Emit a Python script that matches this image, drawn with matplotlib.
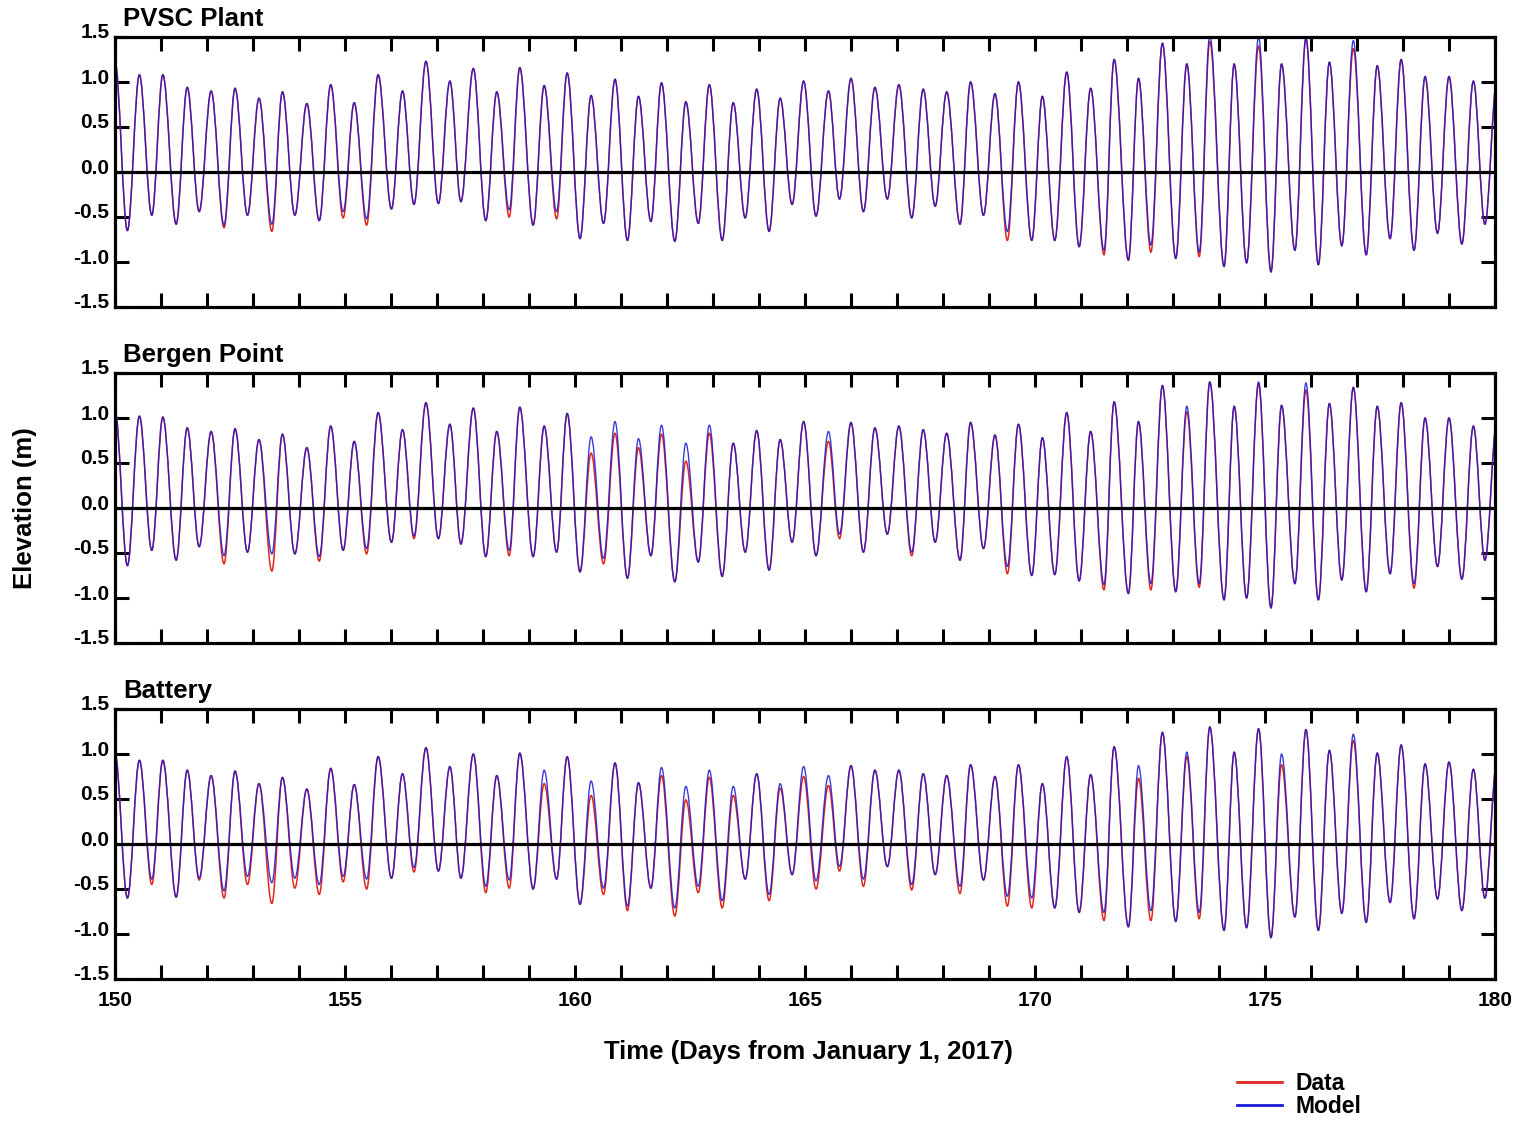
import matplotlib
matplotlib.use("Agg")
import matplotlib.pyplot as plt
from matplotlib.path import Path
from matplotlib.patches import PathPatch
from matplotlib.lines import Line2D
from matplotlib.ticker import FormatStrFormatter
from matplotlib.transforms import ScaledTranslation

# ---------------- data: times of high / low water (days from Jan 1, 2017) ----------------
extrema_days = [
    150.00, 150.27, 150.53, 150.80, 151.04, 151.33, 151.57, 151.83, 152.09, 152.37,
    152.61, 152.88, 153.13, 153.41, 153.64, 153.91, 154.17, 154.44, 154.69, 154.96,
    155.20, 155.47, 155.72, 156.01, 156.25, 156.50, 156.76, 157.03, 157.28, 157.52,
    157.79, 158.06, 158.30, 158.57, 158.80, 159.09, 159.33, 159.60, 159.83, 160.11,
    160.35, 160.62, 160.87, 161.14, 161.38, 161.65, 161.88, 162.17, 162.41, 162.68,
    162.92, 163.20, 163.44, 163.70, 163.95, 164.22, 164.46, 164.72, 164.97, 165.24,
    165.51, 165.75, 166.00, 166.27, 166.52, 166.79, 167.04, 167.32, 167.57, 167.83,
    168.08, 168.37, 168.60, 168.88, 169.13, 169.40, 169.64, 169.93, 170.16, 170.43,
    170.69, 170.96, 171.21, 171.50, 171.72, 172.03, 172.25, 172.52, 172.77, 173.06,
    173.30, 173.57, 173.80, 174.11, 174.33, 174.60, 174.86, 175.13, 175.36, 175.65,
    175.89, 176.16, 176.40, 176.67, 176.92, 177.20, 177.44, 177.72, 177.96, 178.24,
    178.48, 178.75, 179.00, 179.28, 179.53, 179.78, 180.04,
]

# PVSC Plant elevations (m) at the extrema
pvsc_model = [
    1.22, -0.65, 1.08, -0.48, 1.08, -0.58, 0.94, -0.44, 0.90, -0.59,
    0.93, -0.48, 0.82, -0.58, 0.89, -0.48, 0.76, -0.54, 0.97, -0.44,
    0.77, -0.52, 1.08, -0.41, 0.90, -0.36, 1.23, -0.35, 1.01, -0.33,
    1.15, -0.54, 0.89, -0.42, 1.16, -0.59, 0.96, -0.44, 1.10, -0.74,
    0.85, -0.57, 1.03, -0.76, 0.84, -0.55, 0.99, -0.77, 0.78, -0.57,
    0.97, -0.76, 0.77, -0.51, 0.92, -0.66, 0.82, -0.36, 1.01, -0.49,
    0.90, -0.30, 1.04, -0.44, 0.94, -0.30, 0.97, -0.51, 0.92, -0.38,
    0.89, -0.58, 1.00, -0.48, 0.87, -0.66, 1.00, -0.76, 0.84, -0.76,
    1.11, -0.83, 0.93, -0.87, 1.25, -0.98, 1.04, -0.81, 1.43, -0.96,
    1.20, -0.89, 1.52, -1.05, 1.20, -1.01, 1.50, -1.11, 1.20, -0.87,
    1.49, -1.03, 1.22, -0.82, 1.46, -0.92, 1.18, -0.74, 1.25, -0.87,
    1.06, -0.68, 1.06, -0.80, 1.01, -0.58, 1.00,
]
pvsc_data = [
    1.22, -0.65, 1.08, -0.48, 1.08, -0.58, 0.94, -0.44, 0.90, -0.62,
    0.93, -0.48, 0.82, -0.66, 0.89, -0.48, 0.76, -0.54, 0.97, -0.51,
    0.77, -0.59, 1.08, -0.41, 0.90, -0.36, 1.23, -0.35, 1.01, -0.33,
    1.15, -0.54, 0.89, -0.50, 1.16, -0.59, 0.96, -0.52, 1.10, -0.74,
    0.85, -0.57, 1.03, -0.76, 0.84, -0.55, 0.99, -0.77, 0.78, -0.57,
    0.97, -0.76, 0.77, -0.51, 0.92, -0.66, 0.82, -0.36, 1.01, -0.49,
    0.90, -0.30, 1.04, -0.44, 0.94, -0.30, 0.97, -0.51, 0.92, -0.38,
    0.89, -0.58, 1.00, -0.48, 0.87, -0.76, 1.00, -0.76, 0.84, -0.76,
    1.11, -0.83, 0.93, -0.92, 1.25, -0.98, 1.04, -0.89, 1.43, -0.96,
    1.20, -0.94, 1.45, -1.05, 1.20, -1.01, 1.40, -1.11, 1.20, -0.87,
    1.49, -1.03, 1.22, -0.82, 1.37, -0.92, 1.18, -0.74, 1.25, -0.87,
    1.06, -0.68, 1.06, -0.80, 1.01, -0.58, 1.00,
]

# Bergen Point elevations (m)
bergen_model = [
    1.08, -0.64, 1.02, -0.47, 1.01, -0.58, 0.89, -0.43, 0.85, -0.53,
    0.88, -0.49, 0.76, -0.51, 0.82, -0.51, 0.67, -0.54, 0.91, -0.47,
    0.74, -0.45, 1.06, -0.38, 0.87, -0.31, 1.17, -0.34, 0.93, -0.40,
    1.11, -0.54, 0.85, -0.47, 1.12, -0.54, 0.91, -0.49, 1.05, -0.71,
    0.79, -0.56, 0.96, -0.78, 0.77, -0.53, 0.92, -0.82, 0.72, -0.60,
    0.92, -0.76, 0.72, -0.49, 0.86, -0.69, 0.76, -0.38, 0.96, -0.53,
    0.85, -0.29, 0.95, -0.49, 0.89, -0.29, 0.91, -0.49, 0.87, -0.38,
    0.83, -0.58, 0.95, -0.45, 0.81, -0.65, 0.93, -0.75, 0.78, -0.74,
    1.06, -0.81, 0.85, -0.85, 1.18, -0.95, 0.96, -0.84, 1.36, -0.93,
    1.13, -0.84, 1.40, -1.02, 1.13, -1.00, 1.40, -1.11, 1.14, -0.84,
    1.39, -1.02, 1.16, -0.80, 1.34, -0.93, 1.13, -0.73, 1.17, -0.84,
    1.00, -0.65, 1.00, -0.79, 0.91, -0.58, 0.95,
]
bergen_data = [
    1.08, -0.64, 1.02, -0.47, 1.01, -0.58, 0.89, -0.43, 0.85, -0.62,
    0.88, -0.49, 0.76, -0.70, 0.82, -0.51, 0.67, -0.59, 0.91, -0.47,
    0.74, -0.51, 1.06, -0.38, 0.87, -0.34, 1.17, -0.34, 0.93, -0.40,
    1.11, -0.54, 0.85, -0.53, 1.12, -0.54, 0.91, -0.49, 1.05, -0.71,
    0.61, -0.62, 0.83, -0.78, 0.67, -0.53, 0.82, -0.82, 0.52, -0.60,
    0.83, -0.76, 0.72, -0.49, 0.86, -0.69, 0.76, -0.38, 0.96, -0.53,
    0.74, -0.34, 0.95, -0.49, 0.89, -0.29, 0.91, -0.53, 0.87, -0.38,
    0.83, -0.58, 0.95, -0.45, 0.81, -0.73, 0.93, -0.75, 0.78, -0.74,
    1.06, -0.81, 0.85, -0.91, 1.18, -0.95, 0.96, -0.91, 1.36, -0.93,
    1.07, -0.88, 1.40, -1.02, 1.13, -1.00, 1.38, -1.11, 1.14, -0.84,
    1.31, -1.02, 1.16, -0.80, 1.34, -0.93, 1.13, -0.73, 1.17, -0.89,
    1.00, -0.65, 1.00, -0.79, 0.91, -0.58, 0.95,
]

# Battery elevations (m)
battery_model = [
    1.00, -0.60, 0.93, -0.39, 0.93, -0.59, 0.82, -0.38, 0.76, -0.52,
    0.81, -0.36, 0.67, -0.43, 0.74, -0.38, 0.61, -0.45, 0.84, -0.36,
    0.66, -0.39, 0.97, -0.38, 0.78, -0.26, 1.07, -0.30, 0.86, -0.38,
    1.00, -0.47, 0.76, -0.40, 1.01, -0.50, 0.82, -0.39, 0.97, -0.67,
    0.70, -0.49, 0.90, -0.69, 0.68, -0.49, 0.85, -0.71, 0.64, -0.47,
    0.82, -0.63, 0.64, -0.39, 0.78, -0.56, 0.67, -0.34, 0.86, -0.41,
    0.76, -0.25, 0.87, -0.39, 0.82, -0.25, 0.82, -0.45, 0.78, -0.34,
    0.76, -0.47, 0.88, -0.40, 0.75, -0.58, 0.88, -0.60, 0.67, -0.71,
    0.97, -0.76, 0.77, -0.76, 1.08, -0.92, 0.87, -0.74, 1.24, -0.86,
    1.02, -0.76, 1.30, -0.96, 1.02, -0.93, 1.28, -1.04, 1.00, -0.81,
    1.27, -0.96, 1.04, -0.77, 1.22, -0.87, 1.01, -0.65, 1.10, -0.83,
    0.89, -0.61, 0.91, -0.74, 0.83, -0.60, 0.90,
]
battery_data = [
    1.00, -0.60, 0.93, -0.45, 0.93, -0.59, 0.82, -0.40, 0.76, -0.60,
    0.81, -0.45, 0.67, -0.66, 0.74, -0.49, 0.61, -0.56, 0.84, -0.42,
    0.66, -0.50, 0.97, -0.38, 0.78, -0.31, 1.07, -0.30, 0.86, -0.38,
    1.00, -0.54, 0.76, -0.49, 1.01, -0.50, 0.67, -0.39, 0.97, -0.67,
    0.54, -0.56, 0.90, -0.74, 0.68, -0.49, 0.76, -0.80, 0.49, -0.54,
    0.74, -0.71, 0.54, -0.39, 0.78, -0.63, 0.62, -0.34, 0.75, -0.50,
    0.65, -0.30, 0.87, -0.47, 0.82, -0.25, 0.82, -0.51, 0.78, -0.34,
    0.76, -0.55, 0.88, -0.40, 0.75, -0.69, 0.88, -0.71, 0.67, -0.71,
    0.97, -0.76, 0.77, -0.85, 1.08, -0.92, 0.73, -0.85, 1.24, -0.86,
    0.97, -0.83, 1.30, -0.96, 1.02, -0.93, 1.28, -1.04, 0.88, -0.81,
    1.27, -0.96, 1.04, -0.77, 1.15, -0.87, 1.01, -0.65, 1.10, -0.83,
    0.89, -0.61, 0.91, -0.74, 0.83, -0.60, 0.90,
]

station_names = ["PVSC Plant", "Bergen Point", "Battery"]
station_model = [pvsc_model, bergen_model, battery_model]
station_data = [pvsc_data, bergen_data, battery_data]

y_ticks = [-1.5, -1.0, -0.5, 0.0, 0.5, 1.0, 1.5]
x_day_ticks = list(range(150, 181))
x_label_every = 5

# ---------------- style ----------------
plt.rcParams["font.family"] = ["Liberation Sans", "DejaVu Sans"]
plt.rcParams["font.weight"] = "bold"
plt.rcParams["axes.unicode_minus"] = False

DATA_COLOR = "#e0281e"
MODEL_COLOR = "#1a1ad6"


def tide_path(days, vals, k=0.36):
    """Smooth curve through successive high/low waters (horizontal tangents at extrema)."""
    verts = [(days[0], vals[0])]
    codes = [Path.MOVETO]
    for i in range(len(days) - 1):
        t0, t1 = days[i], days[i + 1]
        v0, v1 = vals[i], vals[i + 1]
        dt = t1 - t0
        verts += [(t0 + k * dt, v0), (t1 - k * dt, v1), (t1, v1)]
        codes += [Path.CURVE4] * 3
    return Path(verts, codes)


W, H = 1522, 1123
fig = plt.figure(figsize=(W / 100, H / 100), dpi=100)

panel_px = [(37, 307), (373, 643), (709, 979)]
left_px, right_px = 115, 1495

TICK_FS = 15
LABEL_FS = 18.5

axes = []
for idx, (top, bot) in enumerate(panel_px):
    ax = fig.add_axes([left_px / W, 1 - bot / H, (right_px - left_px) / W, (bot - top) / H])
    axes.append(ax)
    ax.set_xlim(150, 180)
    ax.set_ylim(-1.5, 1.5)

    ax.add_patch(PathPatch(tide_path(extrema_days, station_data[idx]), fill=False,
                           edgecolor=DATA_COLOR, lw=1.1, zorder=2))
    ax.add_patch(PathPatch(tide_path(extrema_days, station_model[idx]), fill=False,
                           edgecolor=MODEL_COLOR, lw=1.0, alpha=0.85, zorder=3))
    ax.axhline(0.0, color="black", lw=2.3, zorder=4)

    for s in ax.spines.values():
        s.set_linewidth(2.3)
        s.set_zorder(5)

    ax.set_xticks(x_day_ticks)
    if idx == 2:
        ax.set_xticklabels([str(d) if d % x_label_every == 0 else "" for d in x_day_ticks])
    else:
        ax.set_xticklabels([])
    ax.tick_params(axis="x", which="both", direction="in", top=True, bottom=True,
                   length=10, width=2.2, labelsize=TICK_FS, pad=9)
    ax.set_yticks(y_ticks)
    ax.yaxis.set_major_formatter(FormatStrFormatter("%.1f"))
    ax.tick_params(axis="y", direction="in", left=True, right=True,
                   length=10, width=2.2, labelsize=TICK_FS, pad=4)
    for lab in ax.get_yticklabels():
        lab.set_fontweight("bold")
        lab.set_transform(lab.get_transform() + ScaledTranslation(0, 0.06, fig.dpi_scale_trans))
    for lab in ax.get_xticklabels():
        lab.set_fontweight("bold")

    ax.text(123 / W, 1 - (top - 18) / H, station_names[idx], transform=fig.transFigure,
            ha="left", va="center", fontsize=LABEL_FS, fontweight="bold")

fig.text(25 / W, 1 - 508 / H, "Elevation (m)", rotation=90, ha="center", va="center",
         fontsize=LABEL_FS, fontweight="bold")
fig.text(808 / W, 1 - 1052 / H, "Time (Days from January 1, 2017)", ha="center",
         va="center", fontsize=LABEL_FS, fontweight="bold")

handles = [Line2D([], [], color=DATA_COLOR, lw=2.0), Line2D([], [], color=MODEL_COLOR, lw=2.0)]
fig.legend(handles, ["Data", "Model"], loc="center left",
           bbox_to_anchor=(1216 / W, 1 - 1095 / H), frameon=False,
           handlelength=2.0, handletextpad=0.55, labelspacing=0.0,
           prop={"weight": "bold", "size": 16.5})

fig.savefig("out.png", dpi=100)
